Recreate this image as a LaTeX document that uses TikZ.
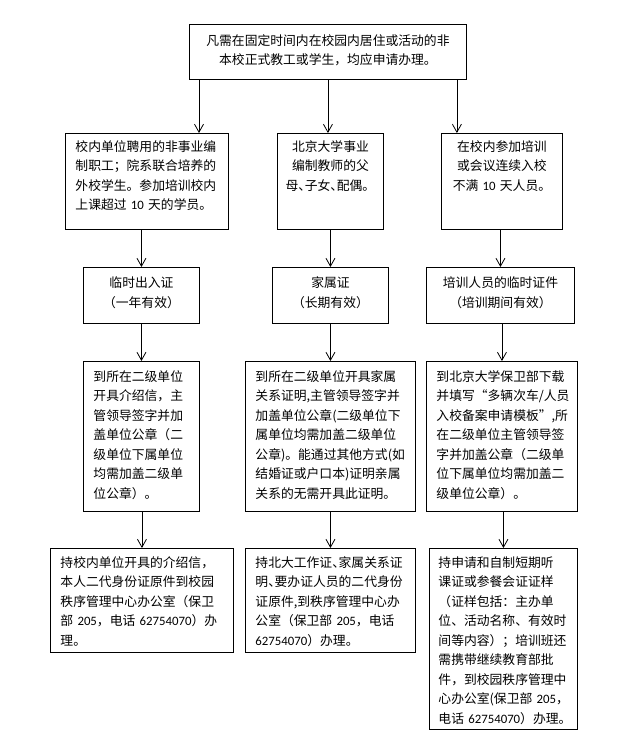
\documentclass[tikz,border=0pt]{standalone}
\usepackage{fontspec}
\usepackage{tikz}
\usetikzlibrary{arrows.meta}
\newfontfamily\cjk{Noto Sans CJK SC}
\newfontfamily\cjkhalf[RawFeature=+halt]{Noto Sans CJK SC}
\newfontfamily\digfont{Carlito}
\newcommand{\halfdun}{{\cjkhalf 、}}
\newcommand{\digs}[1]{{\digfont #1}}

\begin{document}
\begin{tikzpicture}[x=1pt, y=-1pt,
	every node/.style={font=\cjk\fontsize{12.8pt}{19.5pt}\selectfont},
	box/.style={draw, line width=0.9pt, anchor=north west, inner xsep=10pt, text height=11pt},
	arr/.style={->, line width=0.8pt},
	>={Straight Barb[length=8pt, width=9pt]}]
	\useasboundingbox[fill=white] (0,0) rectangle (633,747);
	% top
	\node[box, align=center, text width=257pt, inner ysep=10pt, text depth=24pt] (top) at (189,24) {凡需在固定时间内在校园内居住或活动的非\\本校正式教工或学生，均应申请办理。};
	% who
	\node[box, align=left, text width=143pt, inner ysep=7pt, text depth=71pt] (A1) at (65,133) {校内单位聘用的非事业编\\制职工；院系联合培养的\\外校学生。参加培训校内\\上课超过~\digs{10}~天的学员。};
	\node[box, align=center, text width=94pt, inner xsep=6pt, inner ysep=7pt, text depth=71pt] (A2) at (277,133) {北京大学事业\\编制教师的父\\母\halfdun 子女\halfdun 配偶。};
	\node[box, align=center, text width=101pt, inner ysep=7pt, text depth=71pt] (A3) at (441,133) {在校内参加培训\\或会议连续入校\\不满~\digs{10}~天人员。};
	% passes
	\node[box, align=center, text width=96pt, inner ysep=9.3pt, text depth=26.4pt] (B1) at (83,267) {临时出入证\\（一年有效）};
	\node[box, align=center, text width=96pt, inner ysep=9.3pt, text depth=26.4pt] (B2) at (272,267) {家属证\\（长期有效）};
	\node[box, align=center, text width=128pt, inner ysep=9.3pt, text depth=26.4pt] (B3) at (426,267) {培训人员的临时证件\\（培训期间有效）};
	% papers
	\node[box, align=left, text width=96pt, inner ysep=8.6pt, text depth=121.8pt] (C1) at (83,361) {到所在二级单位\\开具介绍信，主\\管领导签字并加\\盖单位公章（二\\级单位下属单位\\均需加盖二级单\\位公章）。};
	\node[box, align=left, text width=150pt, inner ysep=8.6pt, text depth=121.8pt] (C2) at (245,361) {到所在二级单位开具家属\\关系证明,主管领导签字并\\加盖单位公章(二级单位下\\属单位均需加盖二级单位\\公章)。能通过其他方式(如\\结婚证或户口本)证明亲属\\关系的无需开具此证明。};
	\node[box, align=left, text width=131pt, inner ysep=8.6pt, text depth=121.8pt] (C3) at (426,361) {到北京大学保卫部下载\\并填写“多辆次车/人员\\入校备案申请模板”,所\\在二级单位主管领导签\\字并加盖公章（二级单\\位下属单位均需加盖二\\级单位公章）。};
	% where to go
	\node[box, align=left, text width=163pt, inner ysep=7.6pt, text depth=77.8pt] (D1) at (50,548) {持校内单位开具的介绍信，\\本人二代身份证原件到校园\\秩序管理中心办公室（保卫\\部~\digs{205}，电话~\digs{62754070}）办\\理。};
	\node[box, align=left, text width=150pt, inner ysep=7.6pt, text depth=77.8pt] (D2) at (245,548) {持北大工作证\halfdun 家属关系证\\明\halfdun 要办证人员的二代身份\\证原件,到秩序管理中心办\\公室（保卫部~\digs{205}，电话\\\digs{62754070}）办理。};
	\node[box, align=left, text width=130pt, inner xsep=9pt, inner ysep=7.6pt, text depth=154.8pt] (D3) at (429,548) {持申请和自制短期听\\课证或参餐会证证样\\（证样包括：主办单\\位、活动名称、有效时\\间等内容）；培训班还\\需携带继续教育部批\\件，到校园秩序管理中\\心办公室(保卫部~\digs{205}，\\电话~\digs{62754070}）办理。};
	% arrows
	\coordinate (t1) at ([xshift=10pt]top.south west);
	\coordinate (t3) at ([xshift=-10pt]top.south east);
	\draw[arr] (t1) -- (t1 |- A1.north);
	\draw[arr] (top.south) -- (top.south |- A2.north);
	\draw[arr] (t3) -- (t3 |- A3.north);
	\draw[arr] (A1.south -| B1.north) -- (B1.north);
	\draw[arr] (A2.south -| B2.north) -- (B2.north);
	\draw[arr] (A3.south -| B3.north) -- (B3.north);
	\draw[arr] (B1.south -| C1.north) -- (C1.north);
	\draw[arr] (B2.south -| C2.north) -- (C2.north);
	\draw[arr] (B3.south -| C3.north) -- (C3.north);
	\draw[arr] (C1.south -| D1.north) -- (D1.north);
	\draw[arr] (C2.south -| D2.north) -- (D2.north);
	\draw[arr] (C3.south -| D3.north) -- (D3.north);
\end{tikzpicture}
\end{document}
